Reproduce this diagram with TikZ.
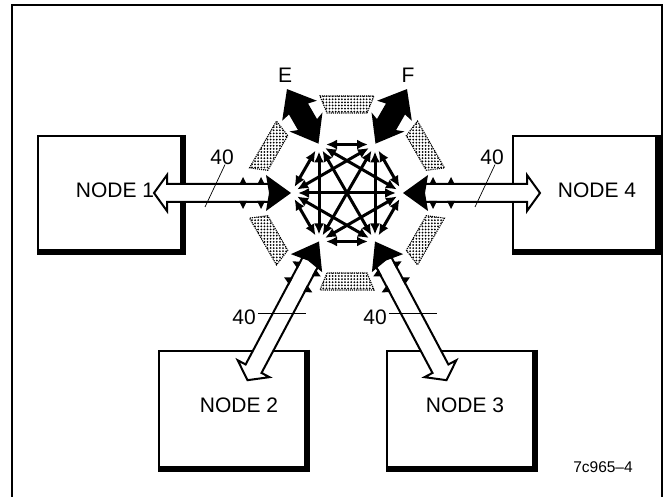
\documentclass[tikz,border=0pt]{standalone}
\usepackage{fontspec}
\setmainfont{Liberation Sans}
\usetikzlibrary{arrows.meta,calc,patterns}
\pgfdeclarepatternformonly{stipple}{\pgfqpoint{-1pt}{-1pt}}{\pgfqpoint{3pt}{3pt}}{\pgfqpoint{3.1pt}{3.1pt}}{%
  \pgfpathcircle{\pgfqpoint{0.9pt}{0.9pt}}{1pt}\pgfusepath{fill}}

\begin{document}
\begin{tikzpicture}[x=1pt,y=1pt,>={Latex[length=11pt,width=10pt]},
  nodebox/.style={draw,line width=2.2pt,inner sep=0pt},
  shadowedge/.style={line width=5.5pt},
  lbl/.style={font=\fontsize{21}{24}\selectfont,inner sep=0pt},
  bus/.style={fill=white,draw=black,line width=2pt,line join=miter},
  stip/.style={pattern=stipple,draw,line width=1.1pt,densely dotted},
  mesh/.style={<->,line width=3pt,shorten <=7pt,shorten >=7pt},
  leader/.style={line width=0.7pt}]
  \useasboundingbox (0,0) rectangle (663,497);
  \draw[line width=1.8pt] (12,0) -- (12,492) -- (662,492) -- (662,0);

  \coordinate (hub) at (347,304);

  \node[nodebox,minimum width=144pt,minimum height=115pt] (box1) at (110,303.5) {};
  \node[nodebox,minimum width=144pt,minimum height=115pt] (box4) at (585,303.5) {};
  \node[nodebox,minimum width=147pt,minimum height=117pt] (box2) at (232.5,87.5) {};
  \node[nodebox,minimum width=147pt,minimum height=117pt] (box3) at (460.5,87.5) {};
  \foreach \b in {box1,box2,box3,box4}
    \draw[shadowedge] (\b.north east) -- (\b.south east) -- (\b.south west);

  \foreach \a/\len in {180/193,0/193,242/212,298/212} {
    \begin{scope}[shift={(hub)},rotate=\a]
      \draw[bus] (77,9) -- (\len-13,9) -- (\len-13,18) -- (\len,0)
        -- (\len-13,-18) -- (\len-13,-9) -- (77,-9);
      \foreach \u in {86,104} {
        \fill (\u-4,8) -- (\u+4,8) -- (\u,16) -- cycle;
        \fill (\u-4,-8) -- (\u+4,-8) -- (\u,-16) -- cycle;
      }
    \end{scope}
  }

  \foreach \a in {0,180,240,300}
    \fill[shift={(hub)},rotate=\a] (56,0) -- (81,18) -- (78,0) -- (81,-18) -- cycle;
  \foreach \a in {60,120}
    \fill[shift={(hub)},rotate=\a] (57,0) -- (82,19) -- (79,11) -- (97,11) -- (95,20)
      -- (120,0) -- (95,-20) -- (97,-11) -- (79,-11) -- (82,-19) -- cycle;

  \foreach \a in {30,90,...,330}
    \draw[stip,shift={(hub)},rotate=\a] (80,-20) -- (97,-27) -- (97,27) -- (80,20) -- cycle;

  \foreach \n/\a in {1/0,2/60,3/120,4/180,5/240,6/300}
    \coordinate (m\n) at ($(hub)+(\a:56)$);
  \foreach \i [evaluate=\i as \k using int(\i+1)] in {1,...,5}
    \foreach \j in {\k,...,6}
      \draw[mesh] (m\i) -- (m\j);

  \node[lbl] (n1) at (115,307) {NODE 1};
  \node[lbl] (n2) at (239,92) {NODE 2};
  \node[lbl] (n3) at (465,92) {NODE 3};
  \node[lbl] (n4) at (597,307) {NODE 4};
  \node[lbl] (lE) at (285,422) {E};
  \node[lbl] (lF) at (408,422) {F};

  \node[lbl] (w1) at (222,340) {40};
  \node[lbl] (w4) at (492,340) {40};
  \node[lbl] (w2) at (244,180) {40};
  \node[lbl] (w3) at (375,180) {40};
  \coordinate (w1end) at (205,290);
  \coordinate (w4end) at (475,290);
  \coordinate (w2end) at (306,184);
  \coordinate (w3end) at (437,184);
  \draw[leader] ([xshift=3pt]w1.south) -- (w1end);
  \draw[leader] ([xshift=3pt]w4.south) -- (w4end);
  \draw[leader] ([xshift=2pt,yshift=4pt]w2.east) -- (w2end);
  \draw[leader] ([xshift=2pt,yshift=4pt]w3.east) -- (w3end);

  \node[font=\fontsize{15.5}{18}\selectfont,inner sep=0pt] (tag) at (603,30) {7c965–4};
\end{tikzpicture}
\end{document}
